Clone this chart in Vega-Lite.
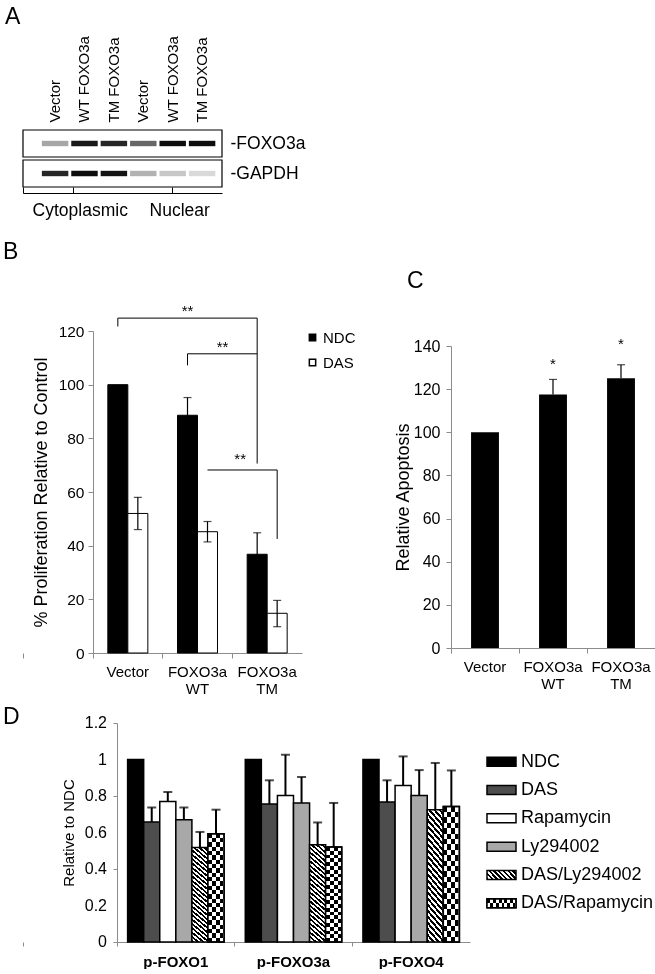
{
  "$schema": "https://vega.github.io/schema/vega-lite/v6.json",
  "padding": {"left": 3, "top": 6, "right": 0, "bottom": 0},
  "bounds": "flush",
  "align": "each",
  "columns": 2,
  "spacing": {"row": 70, "column": 149},
  "resolve": {"scale": {"xOffset": "independent"}},
  "config": {
    "font": "Liberation Sans",
    "view": {"stroke": null},
    "axis": {"grid": false, "domainColor": "#8c8c8c", "tickColor": "#8c8c8c", "labelColor": "black", "titleColor": "black", "labelFont": "Liberation Sans", "titleFont": "Liberation Sans", "titleFontWeight": "normal", "labelOverlap": false},
    "legend": {"labelFont": "Liberation Sans", "labelColor": "black"},
    "title": {"font": "Liberation Sans", "fontWeight": "normal", "fontSize": 23, "anchor": "start", "frame": "group", "color": "black"}
  },
  "datasets": {
    "blot": [
      {"lane": "1 Vector", "protein": "FOXO3a", "intensity": 0.35},
      {"lane": "2 WT FOXO3a", "protein": "FOXO3a", "intensity": 0.9},
      {"lane": "3 TM FOXO3a", "protein": "FOXO3a", "intensity": 0.85},
      {"lane": "4 Vector", "protein": "FOXO3a", "intensity": 0.6},
      {"lane": "5 WT FOXO3a", "protein": "FOXO3a", "intensity": 0.95},
      {"lane": "6 TM FOXO3a", "protein": "FOXO3a", "intensity": 0.95},
      {"lane": "1 Vector", "protein": "GAPDH", "intensity": 0.85},
      {"lane": "2 WT FOXO3a", "protein": "GAPDH", "intensity": 0.95},
      {"lane": "3 TM FOXO3a", "protein": "GAPDH", "intensity": 0.92},
      {"lane": "4 Vector", "protein": "GAPDH", "intensity": 0.3},
      {"lane": "5 WT FOXO3a", "protein": "GAPDH", "intensity": 0.22},
      {"lane": "6 TM FOXO3a", "protein": "GAPDH", "intensity": 0.15}
    ],
    "B": [
      {"group": "Vector", "series": "NDC", "value": 100, "lo": null, "hi": null},
      {"group": "Vector", "series": "DAS", "value": 52, "lo": 46, "hi": 58},
      {"group": "FOXO3a WT", "series": "NDC", "value": 88.6, "lo": 82, "hi": 95.2},
      {"group": "FOXO3a WT", "series": "DAS", "value": 45.2, "lo": 41.4, "hi": 49},
      {"group": "FOXO3a TM", "series": "NDC", "value": 36.8, "lo": 28.8, "hi": 44.8},
      {"group": "FOXO3a TM", "series": "DAS", "value": 14.8, "lo": 9.8, "hi": 19.6}
    ],
    "Bbr": [
      {"bracket": "b1", "ord": 1, "group": "Vector", "series": "NDC", "y": 121.7},
      {"bracket": "b1", "ord": 2, "group": "Vector", "series": "NDC", "y": 124.8},
      {"bracket": "b1", "ord": 3, "group": "FOXO3a TM", "series": "NDC", "y": 124.8},
      {"bracket": "b1", "ord": 4, "group": "FOXO3a TM", "series": "NDC", "y": 70.6},
      {"bracket": "b2", "ord": 1, "group": "FOXO3a WT", "series": "NDC", "y": 107.2},
      {"bracket": "b2", "ord": 2, "group": "FOXO3a WT", "series": "NDC", "y": 111.5},
      {"bracket": "b2", "ord": 3, "group": "FOXO3a TM", "series": "NDC", "y": 111.5},
      {"bracket": "b3", "ord": 1, "group": "FOXO3a WT", "series": "DAS", "y": 68.2},
      {"bracket": "b3", "ord": 2, "group": "FOXO3a TM", "series": "DAS", "y": 68.2},
      {"bracket": "b3", "ord": 3, "group": "FOXO3a TM", "series": "DAS", "y": 42.5}
    ],
    "C": [
      {"group": "Vector", "value": 100, "hi": null},
      {"group": "FOXO3a WT", "value": 117.5, "hi": 124.5},
      {"group": "FOXO3a TM", "value": 125, "hi": 131.3}
    ],
    "D": [
      {"target": "p-FOXO1", "treatment": "NDC", "value": 1, "hi": null},
      {"target": "p-FOXO1", "treatment": "DAS", "value": 0.657, "hi": 0.737},
      {"target": "p-FOXO1", "treatment": "Rapamycin", "value": 0.77, "hi": 0.822},
      {"target": "p-FOXO1", "treatment": "Ly294002", "value": 0.67, "hi": 0.737},
      {"target": "p-FOXO1", "treatment": "DAS/Ly294002", "value": 0.518, "hi": 0.603},
      {"target": "p-FOXO1", "treatment": "DAS/Rapamycin", "value": 0.593, "hi": 0.725},
      {"target": "p-FOXO3a", "treatment": "NDC", "value": 1, "hi": null},
      {"target": "p-FOXO3a", "treatment": "DAS", "value": 0.756, "hi": 0.886},
      {"target": "p-FOXO3a", "treatment": "Rapamycin", "value": 0.803, "hi": 1.026},
      {"target": "p-FOXO3a", "treatment": "Ly294002", "value": 0.762, "hi": 0.904},
      {"target": "p-FOXO3a", "treatment": "DAS/Ly294002", "value": 0.533, "hi": 0.655},
      {"target": "p-FOXO3a", "treatment": "DAS/Rapamycin", "value": 0.52, "hi": 0.762},
      {"target": "p-FOXO4", "treatment": "NDC", "value": 1, "hi": null},
      {"target": "p-FOXO4", "treatment": "DAS", "value": 0.767, "hi": 0.886},
      {"target": "p-FOXO4", "treatment": "Rapamycin", "value": 0.858, "hi": 1.017},
      {"target": "p-FOXO4", "treatment": "Ly294002", "value": 0.803, "hi": 0.942},
      {"target": "p-FOXO4", "treatment": "DAS/Ly294002", "value": 0.725, "hi": 0.981},
      {"target": "p-FOXO4", "treatment": "DAS/Rapamycin", "value": 0.743, "hi": 0.94}
    ],
    "Dticks": [
      {"tick": 0}, {"tick": 0.2}, {"tick": 0.4}, {"tick": 0.6}, {"tick": 0.8}, {"tick": 1}, {"tick": 1.2}
    ],
    "Dleg": [
      {"treatment": "NDC"},
      {"treatment": "DAS"},
      {"treatment": "Rapamycin"},
      {"treatment": "Ly294002"},
      {"treatment": "DAS/Ly294002"},
      {"treatment": "DAS/Rapamycin"}
    ]
  },
  "concat": [
    {
      "width": 199,
      "height": 131,
      "title": {"text": "A", "dx": -18, "offset": 6},
      "layer": [
        {
          "data": {"values": [{"protein": "FOXO3a"}, {"protein": "GAPDH"}]},
          "mark": {"type": "rect", "fill": "white", "stroke": "black", "strokeWidth": 1.2},
          "encoding": {
            "y": {"field": "protein", "type": "nominal", "scale": {"domain": ["FOXO3a", "GAPDH"], "range": [0, 57], "paddingInner": 0.1, "paddingOuter": 0},
              "axis": {"orient": "right", "title": null, "domain": false, "ticks": false, "labelPadding": 8, "labelFontSize": 17.5, "labelExpr": "'-' + datum.label"}}
          }
        },
        {
          "data": {"name": "blot"},
          "mark": {"type": "bar", "width": {"band": 0.9}, "height": {"band": 0.2}, "color": "black"},
          "encoding": {
            "x": {"field": "lane", "type": "nominal", "sort": null, "scale": {"paddingInner": 0, "paddingOuter": 0.384, "align": 0.77},
              "axis": {"orient": "top", "title": null, "domain": false, "ticks": false, "labelAngle": -90, "labelPadding": 8, "labelFontSize": 15, "labelExpr": "slice(datum.label, 2)"}},
            "y": {"field": "protein", "type": "nominal"},
            "opacity": {"field": "intensity", "type": "quantitative", "scale": {"domain": [0, 1], "range": [0, 1]}, "legend": null}
          }
        },
        {
          "data": {"values": [{"fraction": "Cytoplasmic"}, {"fraction": "Nuclear"}]},
          "mark": {"type": "text", "text": ""},
          "encoding": {
            "x": {"field": "fraction", "type": "nominal", "scale": {"paddingInner": 0, "paddingOuter": 0},
              "axis": {"orient": "bottom", "title": null, "offset": -68, "domainColor": "black", "tickColor": "black", "tickSize": -6, "bandPosition": 0, "tickExtra": true, "labelPadding": 14, "labelOffset": 7, "labelFontSize": 17.5, "labelAngle": 0}}
          }
        }
      ],
      "resolve": {"scale": {"x": "independent"}, "axis": {"x": "independent"}}
    },
    {
      "width": 1,
      "height": 1,
      "data": {"values": [{"a": 1}]},
      "mark": {"type": "text", "text": ""},
      "encoding": {}
    },
    {
      "width": 279,
      "height": 322,
      "title": {"text": "B", "dx": -20, "offset": 40},
      "encoding": {
        "x": {"field": "group", "type": "nominal", "sort": null, "scale": {"domain": ["Vector", "FOXO3a WT", "FOXO3a TM"], "range": [70, 279], "paddingInner": 0, "paddingOuter": 0},
          "axis": {"title": null, "labelAngle": 0, "labelExpr": "split(datum.label, ' ')", "labelFontSize": 15, "labelLineHeight": 17, "labelPadding": 6, "tickSize": 5, "bandPosition": 0, "tickExtra": true}},
        "xOffset": {"field": "series", "type": "nominal", "sort": null, "scale": {"domain": ["NDC", "DAS"], "range": [0, 69.67], "paddingInner": 0, "paddingOuter": 0.742}}
      },
      "layer": [
        {
          "data": {"name": "B"},
          "mark": {"type": "bar", "stroke": "black", "strokeWidth": 1},
          "encoding": {
            "y": {"field": "value", "type": "quantitative", "scale": {"domain": [0, 120], "nice": false},
              "axis": {"offset": -70, "values": [0, 20, 40, 60, 80, 100, 120], "title": "% Proliferation Relative to Control", "titleFontSize": 18, "titlePadding": 8, "labelFontSize": 15.5, "tickSize": 5, "labelPadding": 4}},
            "color": {"field": "series", "type": "nominal", "scale": {"domain": ["NDC", "DAS"], "range": ["black", "white"]},
              "legend": {"title": null, "orient": "none", "legendX": 282, "legendY": 200, "padding": 0, "symbolType": "square", "symbolSize": 40, "labelFontSize": 15, "rowPadding": 9, "labelOffset": 3,
                "encode": {"symbols": {"stroke": {"value": "black"}, "strokeWidth": {"value": 1}}}}}
          }
        },
        {
          "data": {"name": "B"},
          "mark": {"type": "rule", "color": "black", "strokeWidth": 1.2},
          "encoding": {"y": {"field": "lo", "type": "quantitative", "scale": {"domain": [0, 120], "nice": false}}, "y2": {"field": "hi"}}
        },
        {
          "data": {"name": "B"},
          "mark": {"type": "tick", "color": "black", "thickness": 1.2, "size": 8},
          "encoding": {"y": {"field": "hi", "type": "quantitative", "scale": {"domain": [0, 120], "nice": false}}}
        },
        {
          "data": {"name": "B"},
          "mark": {"type": "tick", "color": "black", "thickness": 1.2, "size": 8},
          "encoding": {"y": {"field": "lo", "type": "quantitative", "scale": {"domain": [0, 120], "nice": false}}}
        },
        {
          "data": {"name": "Bbr"},
          "mark": {"type": "line", "color": "black", "strokeWidth": 1},
          "encoding": {
            "y": {"field": "y", "type": "quantitative", "scale": {"domain": [0, 120], "nice": false}},
            "detail": {"field": "bracket"},
            "order": {"field": "ord"}
          }
        },
        {
          "data": {"values": [{"group": "FOXO3a WT", "series": "NDC", "y": 127.5}]},
          "mark": {"type": "text", "text": "**", "fontSize": 15, "baseline": "middle"},
          "encoding": {"y": {"field": "y", "type": "quantitative", "scale": {"domain": [0, 120], "nice": false}}}
        },
        {
          "data": {"values": [{"group": "FOXO3a WT", "series": "DAS", "y": 114}]},
          "mark": {"type": "text", "text": "**", "fontSize": 15, "baseline": "middle", "dx": 15},
          "encoding": {"y": {"field": "y", "type": "quantitative", "scale": {"domain": [0, 120], "nice": false}}}
        },
        {
          "data": {"values": [{"group": "FOXO3a TM", "series": "NDC", "y": 72.3}]},
          "mark": {"type": "text", "text": "**", "fontSize": 15, "baseline": "middle", "dx": -17},
          "encoding": {"y": {"field": "y", "type": "quantitative", "scale": {"domain": [0, 120], "nice": false}}}
        }
      ]
    },
    {
      "width": 204,
      "height": 317,
      "title": {"text": "C", "dx": -44, "offset": 38},
      "encoding": {
        "x": {"field": "group", "type": "nominal", "sort": null, "scale": {"domain": ["Vector", "FOXO3a WT", "FOXO3a TM"], "paddingInner": 0, "paddingOuter": 0},
          "axis": {"title": null, "labelAngle": 0, "labelExpr": "split(datum.label, ' ')", "labelFontSize": 15, "labelLineHeight": 17, "labelPadding": 6, "tickSize": 5, "bandPosition": 0, "tickExtra": true}}
      },
      "layer": [
        {
          "data": {"name": "C"},
          "mark": {"type": "bar", "color": "black", "width": {"band": 0.41}},
          "encoding": {
            "y": {"field": "value", "type": "quantitative", "scale": {"domain": [0, 140], "range": [317, 15], "nice": false},
              "axis": {"values": [0, 20, 40, 60, 80, 100, 120, 140], "title": "Relative Apoptosis", "titleFontSize": 18, "titlePadding": 1, "labelFontSize": 16, "tickSize": 5, "labelPadding": 6}}
          }
        },
        {
          "data": {"name": "C"},
          "mark": {"type": "rule", "color": "black", "strokeWidth": 1.2},
          "encoding": {"y": {"field": "value", "type": "quantitative", "scale": {"domain": [0, 140], "range": [317, 15], "nice": false}}, "y2": {"field": "hi"}}
        },
        {
          "data": {"name": "C"},
          "mark": {"type": "tick", "color": "black", "thickness": 1.2, "size": 8},
          "encoding": {"y": {"field": "hi", "type": "quantitative", "scale": {"domain": [0, 140], "range": [317, 15], "nice": false}}}
        },
        {
          "data": {"values": [{"group": "FOXO3a WT", "y": 131.8}, {"group": "FOXO3a TM", "y": 140.7}]},
          "mark": {"type": "text", "text": "*", "fontSize": 15, "baseline": "middle"},
          "encoding": {"y": {"field": "y", "type": "quantitative", "scale": {"domain": [0, 140], "range": [317, 15], "nice": false}}}
        }
      ]
    },
    {
      "width": 279,
      "height": 219,
      "title": {"text": "D", "dx": -20, "offset": -14},
      "encoding": {
        "x": {"field": "target", "type": "nominal", "sort": null, "scale": {"domain": ["p-FOXO1", "p-FOXO3a", "p-FOXO4"], "range": [94, 447], "paddingInner": 0, "paddingOuter": 0},
          "axis": {"title": null, "labelAngle": 0, "labelFontSize": 15, "labelFontWeight": "bold", "bandPosition": 0, "tickExtra": true, "tickSize": 4, "labelPadding": 8}}
      },
      "layer": [
        {
          "data": {"name": "D"},
          "mark": {"type": "bar", "stroke": "black", "strokeWidth": 1.5},
          "encoding": {
            "xOffset": {"field": "treatment", "type": "nominal", "sort": null, "scale": {"domain": ["NDC", "DAS", "Rapamycin", "Ly294002", "DAS/Ly294002", "DAS/Rapamycin"], "range": [0, 117.67], "paddingInner": 0, "paddingOuter": 0.66}},
            "y": {"field": "value", "type": "quantitative", "scale": {"domain": [0, 1.2], "nice": false},
              "axis": {"offset": -94, "values": [0, 0.2, 0.4, 0.6, 0.8, 1, 1.2], "labels": false, "title": "Relative to NDC", "titleFontSize": 15, "titlePadding": 36, "tickSize": 4}},
            "fill": {
              "condition": [
                {"test": "datum.treatment === 'DAS/Ly294002'", "value": {"gradient": "linear", "x1": 0, "y1": 1, "x2": 0.16, "y2": -0.12, "stops": [
                  {"offset": 0, "color": "#000"}, {"offset": 0.02, "color": "#000"}, {"offset": 0.02, "color": "#fff"}, {"offset": 0.04, "color": "#fff"},
                  {"offset": 0.04, "color": "#000"}, {"offset": 0.06, "color": "#000"}, {"offset": 0.06, "color": "#fff"}, {"offset": 0.08, "color": "#fff"},
                  {"offset": 0.08, "color": "#000"}, {"offset": 0.1, "color": "#000"}, {"offset": 0.1, "color": "#fff"}, {"offset": 0.12, "color": "#fff"},
                  {"offset": 0.12, "color": "#000"}, {"offset": 0.14, "color": "#000"}, {"offset": 0.14, "color": "#fff"}, {"offset": 0.16, "color": "#fff"},
                  {"offset": 0.16, "color": "#000"}, {"offset": 0.18, "color": "#000"}, {"offset": 0.18, "color": "#fff"}, {"offset": 0.2, "color": "#fff"},
                  {"offset": 0.2, "color": "#000"}, {"offset": 0.22, "color": "#000"}, {"offset": 0.22, "color": "#fff"}, {"offset": 0.24, "color": "#fff"},
                  {"offset": 0.24, "color": "#000"}, {"offset": 0.26, "color": "#000"}, {"offset": 0.26, "color": "#fff"}, {"offset": 0.28, "color": "#fff"},
                  {"offset": 0.28, "color": "#000"}, {"offset": 0.3, "color": "#000"}, {"offset": 0.3, "color": "#fff"}, {"offset": 0.32, "color": "#fff"},
                  {"offset": 0.32, "color": "#000"}, {"offset": 0.34, "color": "#000"}, {"offset": 0.34, "color": "#fff"}, {"offset": 0.36, "color": "#fff"},
                  {"offset": 0.36, "color": "#000"}, {"offset": 0.38, "color": "#000"}, {"offset": 0.38, "color": "#fff"}, {"offset": 0.4, "color": "#fff"},
                  {"offset": 0.4, "color": "#000"}, {"offset": 0.42, "color": "#000"}, {"offset": 0.42, "color": "#fff"}, {"offset": 0.44, "color": "#fff"},
                  {"offset": 0.44, "color": "#000"}, {"offset": 0.46, "color": "#000"}, {"offset": 0.46, "color": "#fff"}, {"offset": 0.48, "color": "#fff"},
                  {"offset": 0.48, "color": "#000"}, {"offset": 0.5, "color": "#000"}, {"offset": 0.5, "color": "#fff"}, {"offset": 0.52, "color": "#fff"},
                  {"offset": 0.52, "color": "#000"}, {"offset": 0.54, "color": "#000"}, {"offset": 0.54, "color": "#fff"}, {"offset": 0.56, "color": "#fff"},
                  {"offset": 0.56, "color": "#000"}, {"offset": 0.58, "color": "#000"}, {"offset": 0.58, "color": "#fff"}, {"offset": 0.6, "color": "#fff"},
                  {"offset": 0.6, "color": "#000"}, {"offset": 0.62, "color": "#000"}, {"offset": 0.62, "color": "#fff"}, {"offset": 0.64, "color": "#fff"},
                  {"offset": 0.64, "color": "#000"}, {"offset": 0.66, "color": "#000"}, {"offset": 0.66, "color": "#fff"}, {"offset": 0.68, "color": "#fff"},
                  {"offset": 0.68, "color": "#000"}, {"offset": 0.7, "color": "#000"}, {"offset": 0.7, "color": "#fff"}, {"offset": 0.72, "color": "#fff"},
                  {"offset": 0.72, "color": "#000"}, {"offset": 0.74, "color": "#000"}, {"offset": 0.74, "color": "#fff"}, {"offset": 0.76, "color": "#fff"},
                  {"offset": 0.76, "color": "#000"}, {"offset": 0.78, "color": "#000"}, {"offset": 0.78, "color": "#fff"}, {"offset": 0.8, "color": "#fff"},
                  {"offset": 0.8, "color": "#000"}, {"offset": 0.82, "color": "#000"}, {"offset": 0.82, "color": "#fff"}, {"offset": 0.84, "color": "#fff"},
                  {"offset": 0.84, "color": "#000"}, {"offset": 0.86, "color": "#000"}, {"offset": 0.86, "color": "#fff"}, {"offset": 0.88, "color": "#fff"},
                  {"offset": 0.88, "color": "#000"}, {"offset": 0.9, "color": "#000"}, {"offset": 0.9, "color": "#fff"}, {"offset": 0.92, "color": "#fff"},
                  {"offset": 0.92, "color": "#000"}, {"offset": 0.94, "color": "#000"}, {"offset": 0.94, "color": "#fff"}, {"offset": 0.96, "color": "#fff"},
                  {"offset": 0.96, "color": "#000"}, {"offset": 0.98, "color": "#000"}, {"offset": 0.98, "color": "#fff"}, {"offset": 1, "color": "#fff"}
                ]}},
                {"test": "datum.treatment === 'DAS/Rapamycin'", "value": {"gradient": "linear", "x1": 0, "y1": 0, "x2": 1, "y2": 0, "stops": [
                  {"offset": 0, "color": "#000"}, {"offset": 0.25, "color": "#000"}, {"offset": 0.25, "color": "#fff"}, {"offset": 0.5, "color": "#fff"},
                  {"offset": 0.5, "color": "#000"}, {"offset": 0.75, "color": "#000"}, {"offset": 0.75, "color": "#fff"}, {"offset": 1, "color": "#fff"}
                ]}}
              ],
              "field": "treatment", "type": "nominal",
              "scale": {"domain": ["NDC", "DAS", "Rapamycin", "Ly294002", "DAS/Ly294002", "DAS/Rapamycin"], "range": ["black", "#4d4d4d", "white", "#a8a8a8", "#808080", "#808080"]},
              "legend": null
            }
          }
        },
        {
          "data": {"name": "D"},
          "transform": [{"filter": "datum.treatment === 'DAS/Rapamycin'"}],
          "mark": {"type": "bar", "blend": "difference", "strokeWidth": 0, "fill": {"gradient": "linear", "x1": 0, "y1": 0, "x2": 0, "y2": 1, "stops": [
            {"offset": 0, "color": "#000"}, {"offset": 0.04, "color": "#000"}, {"offset": 0.04, "color": "#fff"}, {"offset": 0.08, "color": "#fff"},
            {"offset": 0.08, "color": "#000"}, {"offset": 0.12, "color": "#000"}, {"offset": 0.12, "color": "#fff"}, {"offset": 0.16, "color": "#fff"},
            {"offset": 0.16, "color": "#000"}, {"offset": 0.2, "color": "#000"}, {"offset": 0.2, "color": "#fff"}, {"offset": 0.24, "color": "#fff"},
            {"offset": 0.24, "color": "#000"}, {"offset": 0.28, "color": "#000"}, {"offset": 0.28, "color": "#fff"}, {"offset": 0.32, "color": "#fff"},
            {"offset": 0.32, "color": "#000"}, {"offset": 0.36, "color": "#000"}, {"offset": 0.36, "color": "#fff"}, {"offset": 0.4, "color": "#fff"},
            {"offset": 0.4, "color": "#000"}, {"offset": 0.44, "color": "#000"}, {"offset": 0.44, "color": "#fff"}, {"offset": 0.48, "color": "#fff"},
            {"offset": 0.48, "color": "#000"}, {"offset": 0.52, "color": "#000"}, {"offset": 0.52, "color": "#fff"}, {"offset": 0.56, "color": "#fff"},
            {"offset": 0.56, "color": "#000"}, {"offset": 0.6, "color": "#000"}, {"offset": 0.6, "color": "#fff"}, {"offset": 0.64, "color": "#fff"},
            {"offset": 0.64, "color": "#000"}, {"offset": 0.68, "color": "#000"}, {"offset": 0.68, "color": "#fff"}, {"offset": 0.72, "color": "#fff"},
            {"offset": 0.72, "color": "#000"}, {"offset": 0.76, "color": "#000"}, {"offset": 0.76, "color": "#fff"}, {"offset": 0.8, "color": "#fff"},
            {"offset": 0.8, "color": "#000"}, {"offset": 0.84, "color": "#000"}, {"offset": 0.84, "color": "#fff"}, {"offset": 0.88, "color": "#fff"},
            {"offset": 0.88, "color": "#000"}, {"offset": 0.92, "color": "#000"}, {"offset": 0.92, "color": "#fff"}, {"offset": 0.96, "color": "#fff"},
            {"offset": 0.96, "color": "#000"}, {"offset": 1, "color": "#000"}
          ]}},
          "encoding": {
            "xOffset": {"field": "treatment", "type": "nominal", "sort": null},
            "y": {"field": "value", "type": "quantitative", "scale": {"domain": [0, 1.2], "nice": false}}
          }
        },
        {
          "data": {"name": "D"},
          "transform": [{"filter": "datum.treatment === 'DAS/Rapamycin'"}],
          "mark": {"type": "bar", "fillOpacity": 0, "stroke": "black", "strokeWidth": 1.5},
          "encoding": {
            "xOffset": {"field": "treatment", "type": "nominal", "sort": null},
            "y": {"field": "value", "type": "quantitative", "scale": {"domain": [0, 1.2], "nice": false}}
          }
        },
        {
          "data": {"name": "D"},
          "mark": {"type": "rule", "color": "black", "strokeWidth": 2},
          "encoding": {
            "xOffset": {"field": "treatment", "type": "nominal", "sort": null},
            "y": {"field": "value", "type": "quantitative", "scale": {"domain": [0, 1.2], "nice": false}}, "y2": {"field": "hi"}
          }
        },
        {
          "data": {"name": "D"},
          "mark": {"type": "tick", "color": "black", "thickness": 2, "size": 9},
          "encoding": {
            "xOffset": {"field": "treatment", "type": "nominal", "sort": null},
            "y": {"field": "hi", "type": "quantitative", "scale": {"domain": [0, 1.2], "nice": false}}
          }
        },
        {
          "data": {"name": "Dticks"},
          "mark": {"type": "text", "align": "right", "baseline": "middle", "dx": -10, "fontSize": 16, "color": "black"},
          "encoding": {
            "x": {"datum": "p-FOXO1", "type": "nominal", "bandPosition": 0},
            "y": {"field": "tick", "type": "quantitative", "scale": {"domain": [0, 1.2], "nice": false}},
            "text": {"field": "tick", "type": "quantitative", "format": "~g"}
          }
        }
      ]
    },
    {
      "width": 204,
      "height": 219,
      "data": {"name": "Dleg"},
      "encoding": {
        "x": {"datum": "swatch", "type": "nominal", "scale": {"domain": ["swatch"], "range": [36, 65], "paddingInner": 0, "paddingOuter": 0}, "axis": null},
        "y": {"field": "treatment", "type": "nominal", "sort": null, "scale": {"domain": ["NDC", "DAS", "Rapamycin", "Ly294002", "DAS/Ly294002", "DAS/Rapamycin"], "range": [24.5, 194.5], "paddingInner": 0.68, "paddingOuter": 0.34}, "axis": null}
      },
      "layer": [
        {
          "mark": {"type": "rect", "stroke": "black", "strokeWidth": 1.5},
          "encoding": {
            "fill": {
              "condition": [
                {"test": "datum.treatment === 'NDC'", "value": "black"},
                {"test": "datum.treatment === 'DAS'", "value": "#4d4d4d"},
                {"test": "datum.treatment === 'Rapamycin'", "value": "white"},
                {"test": "datum.treatment === 'Ly294002'", "value": "#a8a8a8"},
                {"test": "datum.treatment === 'DAS/Ly294002'", "value": {"gradient": "linear", "x1": 0, "y1": 1, "x2": 1.195, "y2": 0.63, "stops": [
                  {"offset": 0, "color": "#000"}, {"offset": 0.0625, "color": "#000"}, {"offset": 0.0625, "color": "#fff"}, {"offset": 0.125, "color": "#fff"},
                  {"offset": 0.125, "color": "#000"}, {"offset": 0.1875, "color": "#000"}, {"offset": 0.1875, "color": "#fff"}, {"offset": 0.25, "color": "#fff"},
                  {"offset": 0.25, "color": "#000"}, {"offset": 0.3125, "color": "#000"}, {"offset": 0.3125, "color": "#fff"}, {"offset": 0.375, "color": "#fff"},
                  {"offset": 0.375, "color": "#000"}, {"offset": 0.4375, "color": "#000"}, {"offset": 0.4375, "color": "#fff"}, {"offset": 0.5, "color": "#fff"},
                  {"offset": 0.5, "color": "#000"}, {"offset": 0.5625, "color": "#000"}, {"offset": 0.5625, "color": "#fff"}, {"offset": 0.625, "color": "#fff"},
                  {"offset": 0.625, "color": "#000"}, {"offset": 0.6875, "color": "#000"}, {"offset": 0.6875, "color": "#fff"}, {"offset": 0.75, "color": "#fff"},
                  {"offset": 0.75, "color": "#000"}, {"offset": 0.8125, "color": "#000"}, {"offset": 0.8125, "color": "#fff"}, {"offset": 0.875, "color": "#fff"},
                  {"offset": 0.875, "color": "#000"}, {"offset": 0.9375, "color": "#000"}, {"offset": 0.9375, "color": "#fff"}, {"offset": 1, "color": "#fff"}
                ]}}
              ],
              "value": {"gradient": "linear", "x1": 0, "y1": 0, "x2": 1, "y2": 0, "stops": [
                {"offset": 0, "color": "#000"}, {"offset": 0.1, "color": "#000"}, {"offset": 0.1, "color": "#fff"}, {"offset": 0.2, "color": "#fff"},
                {"offset": 0.2, "color": "#000"}, {"offset": 0.3, "color": "#000"}, {"offset": 0.3, "color": "#fff"}, {"offset": 0.4, "color": "#fff"},
                {"offset": 0.4, "color": "#000"}, {"offset": 0.5, "color": "#000"}, {"offset": 0.5, "color": "#fff"}, {"offset": 0.6, "color": "#fff"},
                {"offset": 0.6, "color": "#000"}, {"offset": 0.7, "color": "#000"}, {"offset": 0.7, "color": "#fff"}, {"offset": 0.8, "color": "#fff"},
                {"offset": 0.8, "color": "#000"}, {"offset": 0.9, "color": "#000"}, {"offset": 0.9, "color": "#fff"}, {"offset": 1, "color": "#fff"}
              ]}
            }
          }
        },
        {
          "transform": [{"filter": "datum.treatment === 'DAS/Rapamycin'"}],
          "mark": {"type": "rect", "blend": "difference", "strokeWidth": 0, "fill": {"gradient": "linear", "x1": 0, "y1": 0, "x2": 0, "y2": 1, "stops": [
            {"offset": 0, "color": "#000"}, {"offset": 0.5, "color": "#000"}, {"offset": 0.5, "color": "#fff"}, {"offset": 1, "color": "#fff"}
          ]}},
          "encoding": {}
        },
        {
          "transform": [{"filter": "datum.treatment === 'DAS/Rapamycin'"}],
          "mark": {"type": "rect", "fillOpacity": 0, "stroke": "black", "strokeWidth": 1.5},
          "encoding": {}
        },
        {
          "mark": {"type": "text", "align": "left", "baseline": "middle", "dx": 5, "fontSize": 18, "color": "black"},
          "encoding": {
            "x": {"datum": "swatch", "type": "nominal", "bandPosition": 1},
            "text": {"field": "treatment"}
          }
        }
      ]
    }
  ]
}
